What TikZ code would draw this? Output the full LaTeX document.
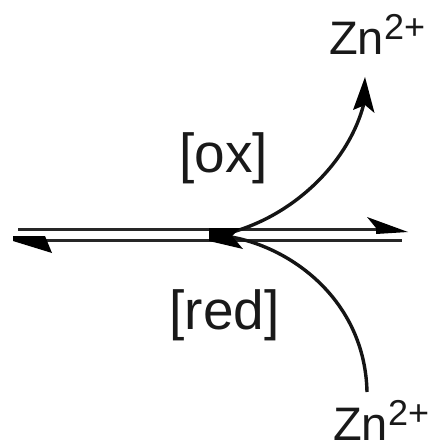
\documentclass[tikz,border=0pt]{standalone}
\usepackage{fontspec}
\setmainfont{Liberation Sans}
\tikzset{
  lab/.style={inner sep=0pt,font=\fontsize{55}{60}\selectfont,text=black!90},
  ionlab/.style={inner sep=0pt,anchor=base west,font=\fontsize{47}{50}\selectfont,text=black!90},
  rail/.style={line width=3pt,draw=black!85},
  curve/.style={line width=3.4pt,draw=black!92},
  barb/.style={fill=black,draw=none}
}
\newcommand{\ion}{Zn\raisebox{15pt}{\fontsize{36}{38}\selectfont 2+}}
\begin{document}
\begin{tikzpicture}[x=1pt,y=-1pt]
\useasboundingbox (0,0) rectangle (436,446);
\coordinate (tl) at (18,229);
\coordinate (tr) at (395,229);
\coordinate (bl) at (30,240.5);
\coordinate (br) at (402,240.5);
\coordinate (ts) at (225,234);
\coordinate (te) at (364,103);
\coordinate (bs) at (225,236);
\coordinate (be) at (367,392);
\node[ionlab] (zt) at (329,55) {\ion};
\node[ionlab] (zb) at (333,440) {\ion};
\node[lab] (ox) at (223.5,158.5) {[ox]};
\node[lab] (red) at (224.5,315.5) {[red]};
\draw[rail] (tl) -- (tr);
\draw[rail] (bl) -- (br);
\draw[curve] (ts) .. controls (295,217) and (350,160) .. (te);
\draw[curve] (bs) .. controls (290,245) and (365,300) .. (be);
\fill[barb] (408,232) -- (367,217) -- (376,228) -- (376,234) -- cycle;
\fill[barb] (13,236) -- (45,236) -- (52,253) -- (13,241) -- cycle;
\fill[barb] (209,228) -- (240,228) -- (232,236) -- (243,249) -- (209,241) -- cycle;
\fill[barb] (365,77) -- (374.5,113) -- (365,105) -- (353,110) -- cycle;
\end{tikzpicture}
\end{document}
